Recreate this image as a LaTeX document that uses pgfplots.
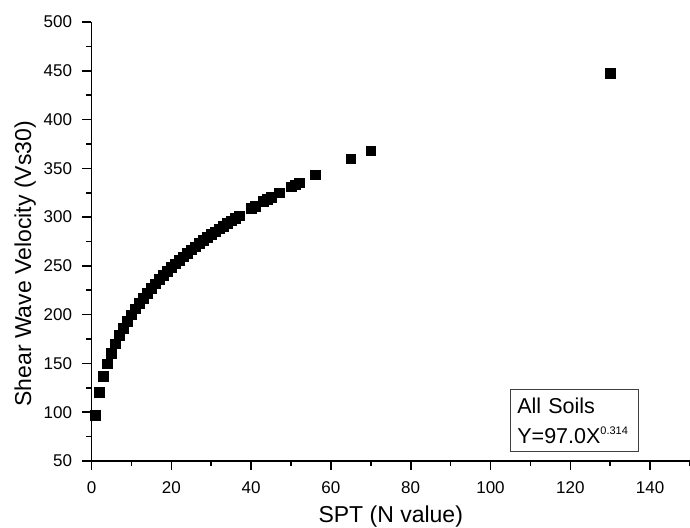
\documentclass[border=0pt]{standalone}
\usepackage{fontspec}
\setmainfont{Liberation Sans}
\usepackage{pgfplots}
\pgfplotsset{compat=1.18}

\begin{document}
\begin{tikzpicture}
	\path[use as bounding box] (-91.5pt,-66pt) rectangle (598.5pt,461pt);
	\begin{axis}[
		at={(0,0)}, anchor=south west,
		scale only axis,
		width=598.5pt, height=439pt,
		xmin=0, xmax=150,
		ymin=50, ymax=500,
		axis x line*=bottom,
		axis y line*=left,
		axis line style={black, line width=1.6pt},
		tick align=outside,
		xtick={0,20,...,140},
		ytick={50,100,...,500},
		minor xtick={10,30,...,150},
		minor ytick={75,125,...,475},
		major tick length=9pt,
		minor tick length=5pt,
		tick style={black, line width=1.6pt},
		/pgf/number format/assume math mode=true,
		ticklabel style={font=\fontsize{17}{18}\selectfont},
		xticklabel style={yshift=-8pt},
		yticklabel style={xshift=-7pt},
		xlabel={SPT (N value)},
		ylabel={Shear Wave Velocity (Vs30)},
		label style={font=\fontsize{23}{25}\selectfont},
		xlabel style={at={(axis description cs:0.5,-0.141)}, anchor=base},
		ylabel style={at={(axis description cs:-0.101,0.449)}, anchor=base},
		clip=false
		]
		
		% measured points
		\addplot[only marks, mark=square*, mark size=4.8pt, black] coordinates {
			(1,97.0) (2,120.6) (3,137.0) (4,149.9) (5,160.8) (6,170.3) (7,178.7)
			(8,186.4) (9,193.4) (10,199.9) (11,206.0) (12,211.7) (13,217.0)
			(14,222.2) (15,227.0) (16,231.7) (17,236.1) (18,240.4) (19,244.5)
			(20,248.5) (21,252.3) (22,256.0) (23,259.6) (24,263.1) (25,266.5)
			(26,269.8) (27,273.0) (28,276.2) (29,279.2) (30,282.2) (31,285.2)
			(32,288.0) (33,290.8) (34,293.5) (35,296.2) (36,298.8) (37,301.4)
			(40,308.9) (41,311.3) (43,316.0) (44,318.3) (45,320.5) (47,324.9)
			(50,331.3) (51,333.4) (52,335.4) (56,343.3) (65,359.8) (70,368.2)
			(130,447.3)
		};
		
		\node[draw=black!75, line width=0.8pt, anchor=south west,
			inner xsep=6.5pt, inner ysep=8pt, text width=115pt, align=left,
			font=\fontsize{21.5}{30}\selectfont]
			at (axis description cs:0.700,0.021)
			{All Soils\\Y=97.0X\raisebox{9pt}{\fontsize{11}{11}\selectfont 0.314}};
	\end{axis}
\end{tikzpicture}
\end{document}
